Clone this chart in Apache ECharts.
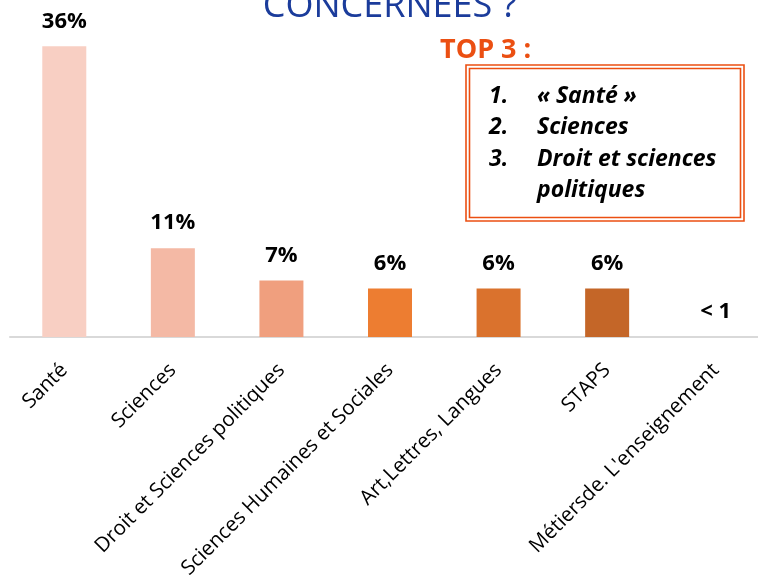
<!DOCTYPE html>
<html>
<head>
<meta charset="utf-8">
<script src="https://cdn.jsdelivr.net/npm/echarts@6/dist/echarts.min.js"></script>
<style>
  html, body { margin: 0; padding: 0; background: #ffffff; }
  #chart { width: 758px; height: 575px; }
</style>
</head>
<body>
<div id="chart"></div>
<script>
// Filières concernées (% des réponses)
const categories = [
  'Santé',
  'Sciences',
  'Droit et Sciences politiques',
  'Sciences Humaines et Sociales',
  'Art,Lettres, Langues',
  'STAPS',
  "Métiersde. L'enseignement"
];
const values = [36, 11, 7, 6, 6, 6, 0];
const valueLabels = ['36%', '11%', '7%', '6%', '6%', '6%', '< 1'];
const top3 = ['« Santé »', 'Sciences', 'Droit et sciences', 'politiques'];
const top3Numbers = ['1.', '2.', '3.', ''];

const barColors = ['#F8CFC3', '#F4B9A5', '#F09F7E', '#ED7D31', '#DA722D', '#C46628'];
const accent = '#EB4F12';
const FONT = '"Open Sans", "Noto Sans", sans-serif';

const chart = echarts.init(document.getElementById('chart'), null, { renderer: 'canvas' });

const listGraphics = [];
top3.forEach((txt, i) => {
  const y = 96 + i * 31.5;
  if (top3Numbers[i]) {
    listGraphics.push({
      type: 'text', x: 489, y: y,
      style: { text: top3Numbers[i], font: 'italic bold 23px ' + FONT, fill: '#000', verticalAlign: 'middle' }
    });
  }
  listGraphics.push({
    type: 'text', x: 537, y: y,
    style: { text: txt, font: 'italic bold 23px ' + FONT, fill: '#000', verticalAlign: 'middle' }
  });
});

chart.setOption({
  animation: false,
  grid: { left: 10, width: 760, top: 14, bottom: 238, containLabel: false, outerBoundsMode: 'none' },
  xAxis: {
    type: 'category',
    data: categories,
    axisLine: { show: true, lineStyle: { color: '#D9D9D9', width: 2 } },
    axisTick: { show: false },
    axisLabel: {
      rotate: 45,
      interval: 0,
      margin: 30,
      color: '#000',
      fontFamily: FONT,
      fontSize: 20.5
    }
  },
  yAxis: {
    type: 'value', min: 0, max: 40,
    show: false,
    splitLine: { show: false }
  },
  series: [{
    type: 'bar',
    barWidth: 44,
    data: values.map((v, i) => ({
      value: v,
      itemStyle: { color: barColors[i] || '#C46628' }
    })),
    label: {
      show: true,
      position: 'top',
      distance: 14,
      color: '#000',
      fontFamily: FONT,
      fontWeight: 'bold',
      fontSize: 22,
      formatter: p => valueLabels[p.dataIndex]
    }
  }],
  graphic: [
    {
      type: 'text', x: 390, y: 7,
      style: { text: 'CONCERNÉES ?', font: '36px ' + FONT, fill: '#1B3C9B', align: 'center', verticalAlign: 'middle' }
    },
    {
      type: 'text', x: 440, y: 50,
      style: { text: 'TOP 3 :', font: 'bold 27px ' + FONT, fill: accent, verticalAlign: 'middle' }
    },
    {
      type: 'rect', shape: { x: 466, y: 65, width: 278, height: 156 },
      style: { fill: 'none', stroke: accent, lineWidth: 1.6 }
    },
    {
      type: 'rect', shape: { x: 469.5, y: 68.5, width: 271, height: 149 },
      style: { fill: 'none', stroke: accent, lineWidth: 1.6 }
    },
    ...listGraphics
  ]
});
</script>
</body>
</html>
